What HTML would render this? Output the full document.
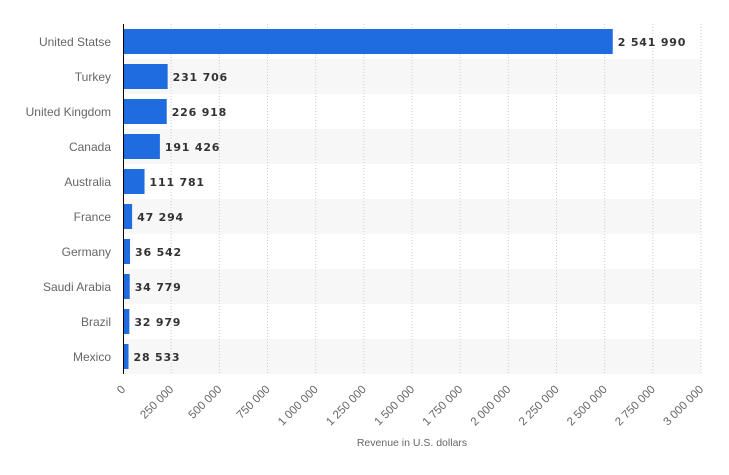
<!DOCTYPE html>
<html><head><meta charset="utf-8"><style>
body{margin:0;background:#fff;}
svg{display:block;font-family:"Liberation Sans",sans-serif;}
</style></head><body>
<svg id="chart" width="729" height="475"></svg>
<script>
const categories=["United Statse","Turkey","United Kingdom","Canada","Australia","France","Germany","Saudi Arabia","Brazil","Mexico"];
const values=[2541990,231706,226918,191426,111781,47294,36542,34779,32979,28533];
const ticks=[0,250000,500000,750000,1000000,1250000,1500000,1750000,2000000,2250000,2500000,2750000,3000000];
const NS="http://www.w3.org/2000/svg";
const svgEl=document.getElementById('chart');
const x0=123,x1=701,plotTop=24,rowH=35;
const xs=v=>x0+(v/3000000)*(x1-x0);
const ys=i=>plotTop+i*rowH;
const fmt=v=>String(v).replace(/\B(?=(\d{3})+(?!\d))/g,' ');
function mk(t,a){const e=document.createElementNS(NS,t);for(const k in a)e.setAttribute(k,a[k]);svgEl.appendChild(e);return e;}
categories.forEach((c,i)=>{if(i%2==1){const r=mk('rect',{x:x0,y:ys(i),width:x1-x0,height:rowH,fill:'#f7f7f7'});

}});
ticks.forEach((t,i)=>{const x=xs(t);
if(i>0){const g=mk('line',{x1:x,x2:x,y1:plotTop,y2:plotTop+rowH*categories.length,stroke:'#ccc','stroke-dasharray':'1,2'});

}
const l=mk('text',{x:x+3,y:390,'font-size':11.5,fill:'#666','text-anchor':'end',transform:'rotate(-45 '+(x+3)+' 390)'});
l.textContent=fmt(t);

});
categories.forEach((c,i)=>{const y=ys(i);
const b=mk('rect',{x:x0,y:y+5,width:xs(values[i])-x0,height:25,fill:'#1f6be0'});


const l=mk('text',{x:111,y:y+22,'font-size':12,fill:'#666','text-anchor':'end'});l.textContent=c;


const v=mk('text',{x:xs(values[i])+5,y:y+22,'font-size':11,'font-weight':'bold',fill:'#333','font-family':'"DejaVu Sans",sans-serif','letter-spacing':'0.8'});v.textContent=fmt(values[i]);

});
const ax=mk('line',{x1:x0+0.5,x2:x0+0.5,y1:plotTop,y2:plotTop+rowH*categories.length,stroke:'#000'});


const tt=mk('text',{x:412,y:446,'font-size':10.5,fill:'#666','text-anchor':'middle'});tt.textContent='Revenue in U.S. dollars';


</script></body></html>
